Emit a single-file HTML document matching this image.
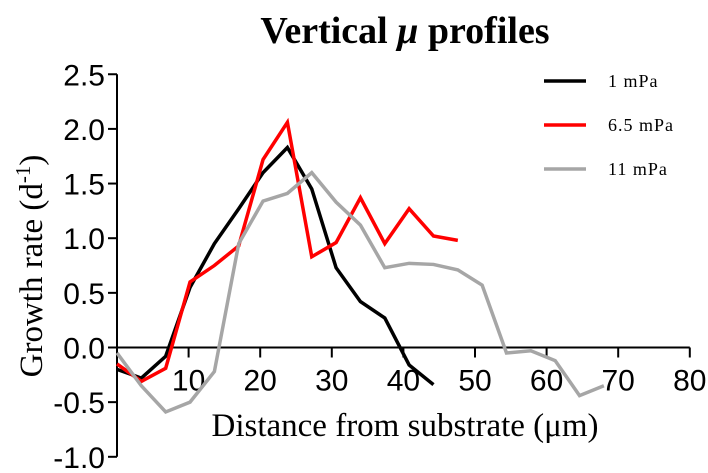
<!DOCTYPE html>
<html><head><meta charset="utf-8"><style>
body{margin:0;background:#fff}
svg{display:block}
.t{font-family:"Liberation Sans",sans-serif;font-size:30px;fill:#000}
.s{font-family:"Liberation Serif",serif;fill:#000}
</style></head><body>
<svg id="chart" width="708" height="473" viewBox="0 0 708 473">
<text class="s" x="405" y="43" text-anchor="middle" font-size="38" font-weight="bold">Vertical <tspan font-style="italic">μ</tspan> profiles</text>
<text class="s" transform="translate(42,266) rotate(-90)" text-anchor="middle" font-size="33">Growth rate (d<tspan dy="-12" font-size="21">-1</tspan><tspan dy="12">)</tspan></text>
<text class="s" x="405" y="436" text-anchor="middle" font-size="33">Distance from substrate (μm)</text>
<g id="axes"></g>
<g id="series"></g>
<g id="legend"></g>
</svg>
<script>
const xTicks=[10,20,30,40,50,60,70,80];
const yTicks=[2.5,2.0,1.5,1.0,0.5,0.0,-0.5,-1.0];
const xStep=3.4;
const black=[-0.2,-0.28,-0.08,0.55,0.95,1.27,1.6,1.83,1.45,0.73,0.42,0.27,-0.16,-0.34];
const red=[-0.15,-0.31,-0.19,0.6,0.75,0.93,1.72,2.06,0.83,0.96,1.37,0.95,1.27,1.02,0.98];
const gray=[-0.05,-0.35,-0.59,-0.5,-0.22,0.95,1.34,1.41,1.6,1.33,1.12,0.73,0.77,0.76,0.71,0.57,-0.05,-0.03,-0.12,-0.44,-0.35];
const labels=["1 mPa","6.5 mPa","11 mPa"];
const NS="http://www.w3.org/2000/svg";
const X=v=>117+v*7.16;
const Y=v=>347.5-v*109.3;
function mk(tag,attrs,parent){const e=document.createElementNS(NS,tag);for(const k in attrs)e.setAttribute(k,attrs[k]);parent.appendChild(e);return e;}
const axes=document.getElementById('axes');
let l=mk('line',{x1:X(0),x2:X(0),y1:Y(2.5),y2:Y(-1),stroke:'#000','stroke-width':2},axes);


l=mk('line',{x1:X(0),x2:X(80),y1:Y(0),y2:Y(0),stroke:'#000','stroke-width':2},axes);


yTicks.forEach(v=>{
  const t=mk('line',{x1:X(0)-9,x2:X(0),y1:Y(v),y2:Y(v),stroke:'#000','stroke-width':2},axes);
  
  
  const tx=mk('text',{x:X(0)-12,y:Y(v)+11,'text-anchor':'end',class:'t'},axes);
  tx.textContent=v.toFixed(1);
  
  
});
xTicks.forEach(v=>{
  const t=mk('line',{x1:X(v),x2:X(v),y1:Y(0),y2:Y(0)+10,stroke:'#000','stroke-width':2},axes);
  
  
  const tx=mk('text',{x:X(v),y:Y(0)+43,'text-anchor':'middle',class:'t'},axes);
  tx.textContent=v;
  
  
});
const ser=document.getElementById('series');
const leg=document.getElementById('legend');
[[black,'#000'],[red,'#f00'],[gray,'#a6a6a6']].forEach((s,i)=>{
  const p=mk('polyline',{points:s[0].map((v,j)=>X(j*xStep)+','+Y(v)).join(' '),fill:'none',stroke:s[1],'stroke-width':3.5,'stroke-linejoin':'miter'},ser);
  
  
  const ly=81+i*44;
  const ll=mk('line',{x1:544,x2:586,y1:ly,y2:ly,stroke:s[1],'stroke-width':3.5},leg);
  
  
  const lt=mk('text',{x:608,y:ly+6,class:'s','font-size':18,'letter-spacing':'1'},leg);
  lt.textContent=labels[i];
  
  
});
</script>
</body></html>
